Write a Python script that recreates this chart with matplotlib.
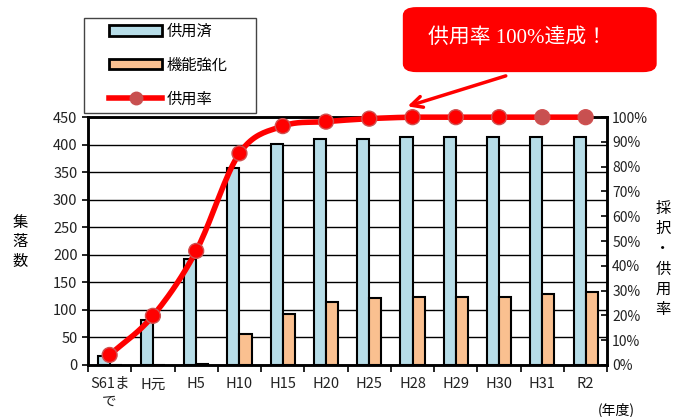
import numpy as np
import matplotlib.pyplot as plt
from matplotlib.patches import Patch, FancyBboxPatch, Rectangle
from matplotlib.lines import Line2D

plt.rcParams['font.family'] = ['Noto Sans CJK JP', 'DejaVu Sans']

# データ
years = ['S61ま\nで', 'H元', 'H5', 'H10', 'H15', 'H20', 'H25', 'H28', 'H29', 'H30', 'H31', 'R2']
kyoyo_zumi = [17, 82, 193, 358, 402, 411, 410, 414, 414, 414, 414, 414]
kino_kyoka = [0, 0, 2, 56, 93, 115, 121, 124, 124, 124, 129, 133]
kyoyo_ritsu = [4, 19.8, 46, 85.4, 96.4, 98.2, 99.4, 100, 100, 100, 100, 100]

blue = '#b7dde8'
orange = '#fac090'
red = '#ff0000'


def smooth(xs, ys, n=20):
    # Catmull-Rom で滑らかな線にする（Excelの平滑線風）
    xs = np.asarray(xs, float)
    ys = np.asarray(ys, float)
    px = np.concatenate([[2 * xs[0] - xs[1]], xs, [2 * xs[-1] - xs[-2]]])
    py = np.concatenate([[2 * ys[0] - ys[1]], ys, [2 * ys[-1] - ys[-2]]])
    ox, oy = [], []
    t = np.linspace(0, 1, n, endpoint=False)
    for i in range(1, len(px) - 2):
        for p, o in ((px, ox), (py, oy)):
            p0, p1, p2, p3 = p[i - 1], p[i], p[i + 1], p[i + 2]
            o.extend(0.5 * ((2 * p1) + (-p0 + p2) * t + (2 * p0 - 5 * p1 + 4 * p2 - p3) * t ** 2
                            + (-p0 + 3 * p1 - 3 * p2 + p3) * t ** 3))
    ox.append(xs[-1])
    oy.append(ys[-1])
    return np.array(ox), np.minimum(np.array(oy), 100)


fig = plt.figure(figsize=(6.77, 4.17), dpi=100)
ax = fig.add_axes([0.130, 0.125, 0.767, 0.594])
x = np.arange(len(years))
w = 0.28
ax.bar(x - w / 2, kyoyo_zumi, w, color=blue, edgecolor='black', linewidth=1.5, zorder=2)
ax.bar(x + w / 2, kino_kyoka, w, color=orange, edgecolor='black', linewidth=1.5, zorder=2)
ax.set_xlim(-0.5, len(years) - 0.5)
ax.set_ylim(0, 450)
ax.set_yticks(range(0, 451, 50))
ax.yaxis.grid(True, color='black', linewidth=1)
ax.set_axisbelow(True)
ax.set_xticks(x)
ax.set_xticklabels(years, fontsize=10.5, color='#222222', linespacing=1.35)
ax.set_xticks(np.arange(-0.5, len(years)), minor=True)
ax.tick_params(axis='x', which='major', length=0, pad=9)
ax.tick_params(axis='x', which='minor', length=5, width=1.2, direction='out')
ax.tick_params(axis='y', labelsize=10.5, labelcolor='#222222', length=4, width=1.2)
for s in ax.spines.values():
    s.set_linewidth(1.8)

ax2 = ax.twinx()
ax2.set_ylim(0, 100)
ax2.set_yticks(range(0, 101, 10))
ax2.set_yticklabels([f'{v}%' for v in range(0, 101, 10)])
ax2.tick_params(axis='y', labelsize=10, labelcolor='#222222', direction='in', length=4, width=1.2)
sx, sy = smooth(x, kyoyo_ritsu)
ax2.plot(sx, sy, color=red, linewidth=4, zorder=3, clip_on=False)
mcols = [red] * 10 + ['#c85050'] * 2
ax2.scatter(x, kyoyo_ritsu, s=115, c=mcols, edgecolors='#d05050', linewidths=1, zorder=4, clip_on=False)
for s in ax2.spines.values():
    s.set_linewidth(1.8)

# 軸ラベル（縦書き）
fig.text(0.030, 0.42, '集\n落\n数', fontsize=11, ha='center', va='center', linespacing=1.2)
fig.text(0.979, 0.379, '採\n択\n・\n供\n用\n率', fontsize=11, ha='center', va='center', linespacing=1.25)
fig.text(0.91, 0.018, '(年度)', fontsize=10, ha='center', va='center')

# 凡例
handles = [Patch(facecolor=blue, edgecolor='black', linewidth=2),
           Patch(facecolor=orange, edgecolor='black', linewidth=2),
           Line2D([0], [0], color=red, linewidth=4, marker='o', markersize=9,
                  markerfacecolor='#c85050', markeredgecolor='#c85050')]
fig.legend(handles, ['供用済', '機能強化', '供用率'], loc='upper left',
           bbox_to_anchor=(0.161, 0.945), fontsize=11, frameon=False,
           handlelength=3.5, handleheight=0.65, labelspacing=1.1, borderpad=0,
           handletextpad=0.3, borderaxespad=0)
fig.patches.append(Rectangle((84 / 677, 1 - 113 / 417), 172 / 677, 95 / 417,
                             transform=fig.transFigure, facecolor='none',
                             edgecolor='#444444', linewidth=1))

# 吹き出し
box = FancyBboxPatch((0.595, 0.827), 0.375, 0.156, boxstyle='round,pad=0,rounding_size=0.02',
                     transform=fig.transFigure, facecolor='#ff0000', edgecolor='none')
fig.patches.append(box)
fig.text(0.765, 0.908, '供用率 100%達成！', fontsize=15, color='white', ha='center', va='center',
         family=['Liberation Serif', 'Noto Sans CJK JP'])
fig.add_artist(plt.Annotation('', xy=(0.598, 0.743), xytext=(0.751, 0.82),
                              xycoords='figure fraction', textcoords='figure fraction',
                              arrowprops=dict(arrowstyle='->,head_length=0.8,head_width=0.4',
                                              color='#ff0000', linewidth=2.5)))

fig.savefig('out.png', dpi=100)
